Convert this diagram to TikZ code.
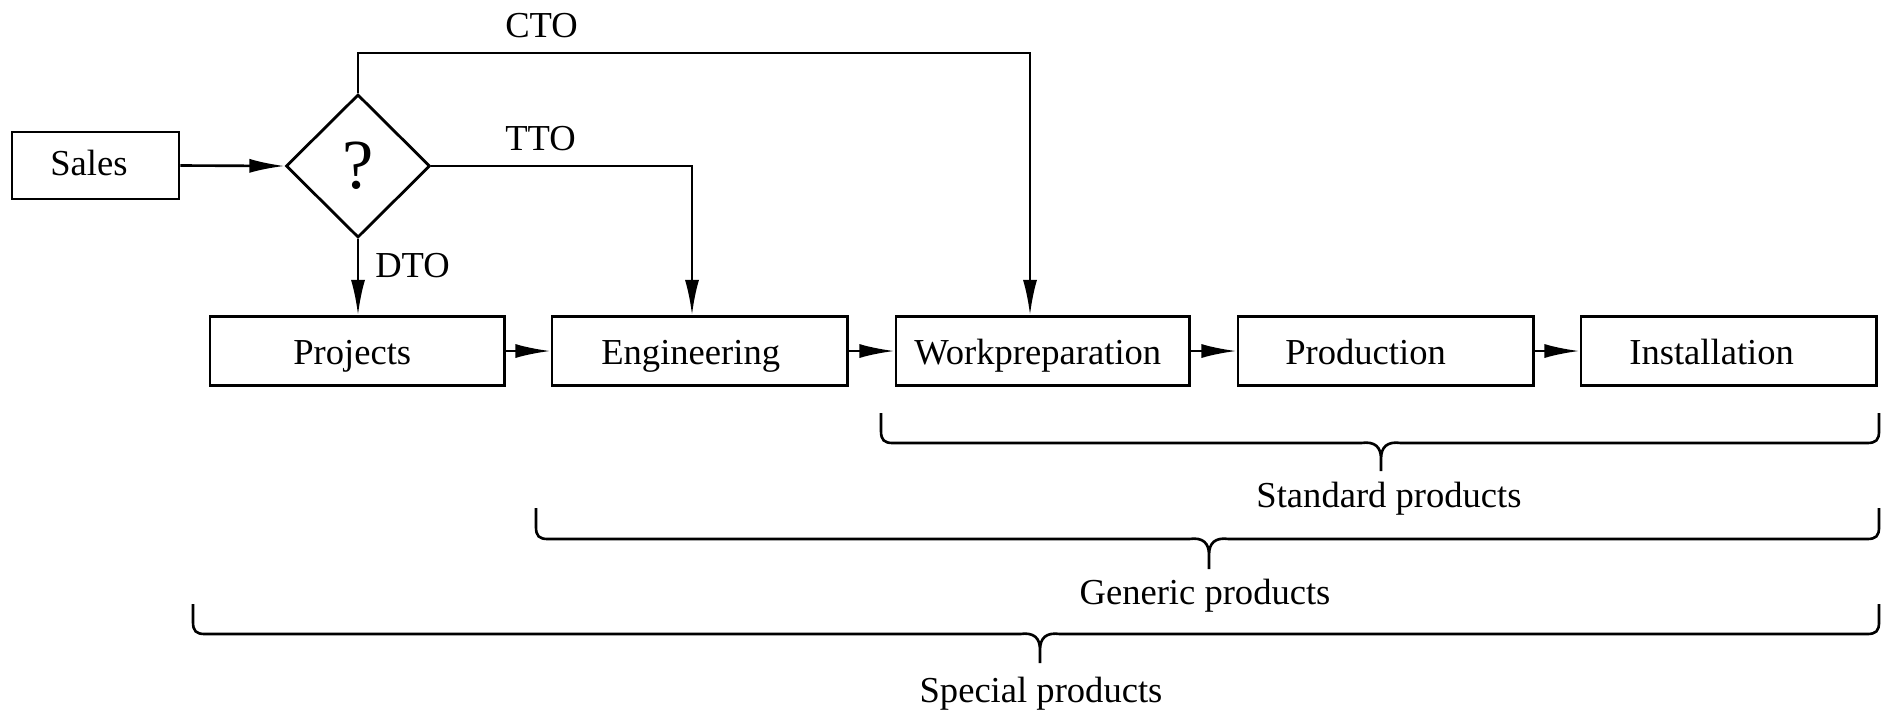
\documentclass[tikz,border=0pt]{standalone}
\usepackage{fontspec}
\setmainfont{Liberation Serif}
\usetikzlibrary{arrows.meta,shapes.geometric}
\newcommand\bracepath[6]{% L R C top line tip
  \draw[brc] (#1,#4) -- (#1,{#5-12}) .. controls (#1,{#5-3}) and ({#1+3},#5) .. ({#1+12},#5)
    -- ({#3-20},#5) .. controls ({#3-6},{#5-2}) and (#3,{#5+4}) .. (#3,{#5+16}) -- (#3,#6)
    -- (#3,{#5+16}) .. controls (#3,{#5+4}) and ({#3+6},{#5-2}) .. ({#3+20},#5)
    -- ({#2-12},#5) .. controls ({#2-3},#5) and (#2,{#5-3}) .. (#2,{#5-12}) -- (#2,#4);}
\begin{document}
\begin{tikzpicture}[x=0.01cm,y=-0.01cm,
  line width=0.75pt,
  box/.style={draw, line width=0.8pt, inner sep=0pt, minimum height=0.69cm},
  txt/.style={anchor=base west, inner sep=0pt, font=\fontsize{10.4}{12}\selectfont},
  ctr/.style={anchor=base, inner sep=0pt, font=\fontsize{10.4}{12}\selectfont},
  arr/.style={-{Latex[length=10pt,width=4pt]}},
  brc/.style={line width=0.75pt}]
\useasboundingbox (0,0) rectangle (1883,711);

% boxes
\node[box, minimum width=1.67cm, minimum height=0.67cm] (sales) at (95.5,165.5) {};
\node[txt] (salest) at (49,175) {Sales};
\node[draw, diamond, aspect=1, line width=0.8pt, inner sep=0pt, minimum width=1.44cm, minimum height=1.43cm,
      font=\fontsize{20}{24}\selectfont] (q) at (358,166) {?};

\node[box, minimum width=2.94cm] (proj) at (357,351) {};
\node[box, minimum width=2.95cm] (eng) at (699.5,351) {};
\node[box, minimum width=2.93cm] (wp) at (1042.5,351) {};
\node[box, minimum width=2.95cm] (prod) at (1385.5,351) {};
\node[box, minimum width=2.95cm] (inst) at (1728.5,351) {};

\node[txt] (projt) at (292,364) {Projects};
\node[txt] (engt) at (600,364) {Engineering};
\node[txt] (wpt) at (913,364) {Workpreparation};
\node[txt] (prodt) at (1284,364) {Production};
\node[txt] (instt) at (1628,364) {Installation};

% labels
\node[txt] (cto) at (504,37) {CTO};
\node[txt] (tto) at (504,150) {TTO};
\node[txt] (dto) at (374,277) {DTO};

% connectors
\coordinate (ctoc) at (1030,53);
\coordinate (ttoc) at (692,166);
\draw[arr] (sales.east) -- (q.west);
\draw[arr] (q.south) -- (q.south |- proj.north);
\draw[arr] (q.east) -- (ttoc) -- (ttoc |- eng.north);
\draw[arr] (q.north) |- (ctoc) -- (ctoc |- wp.north);
\draw[arr] (proj.east) -- (eng.west);
\draw[arr] (eng.east) -- (wp.west);
\draw[arr] (wp.east) -- (prod.west);
\draw[arr] (prod.east) -- (inst.west);

% braces
\bracepath{881}{1879}{1381}{413}{443}{471}
\bracepath{536}{1879}{1209}{508}{539}{569}
\bracepath{193}{1879}{1040}{604}{634}{663}

\node[ctr] (std) at (1389,507) {Standard products};
\node[ctr] (gen) at (1205,604) {Generic products};
\node[ctr] (spe) at (1041,702) {Special products};
\end{tikzpicture}
\end{document}
